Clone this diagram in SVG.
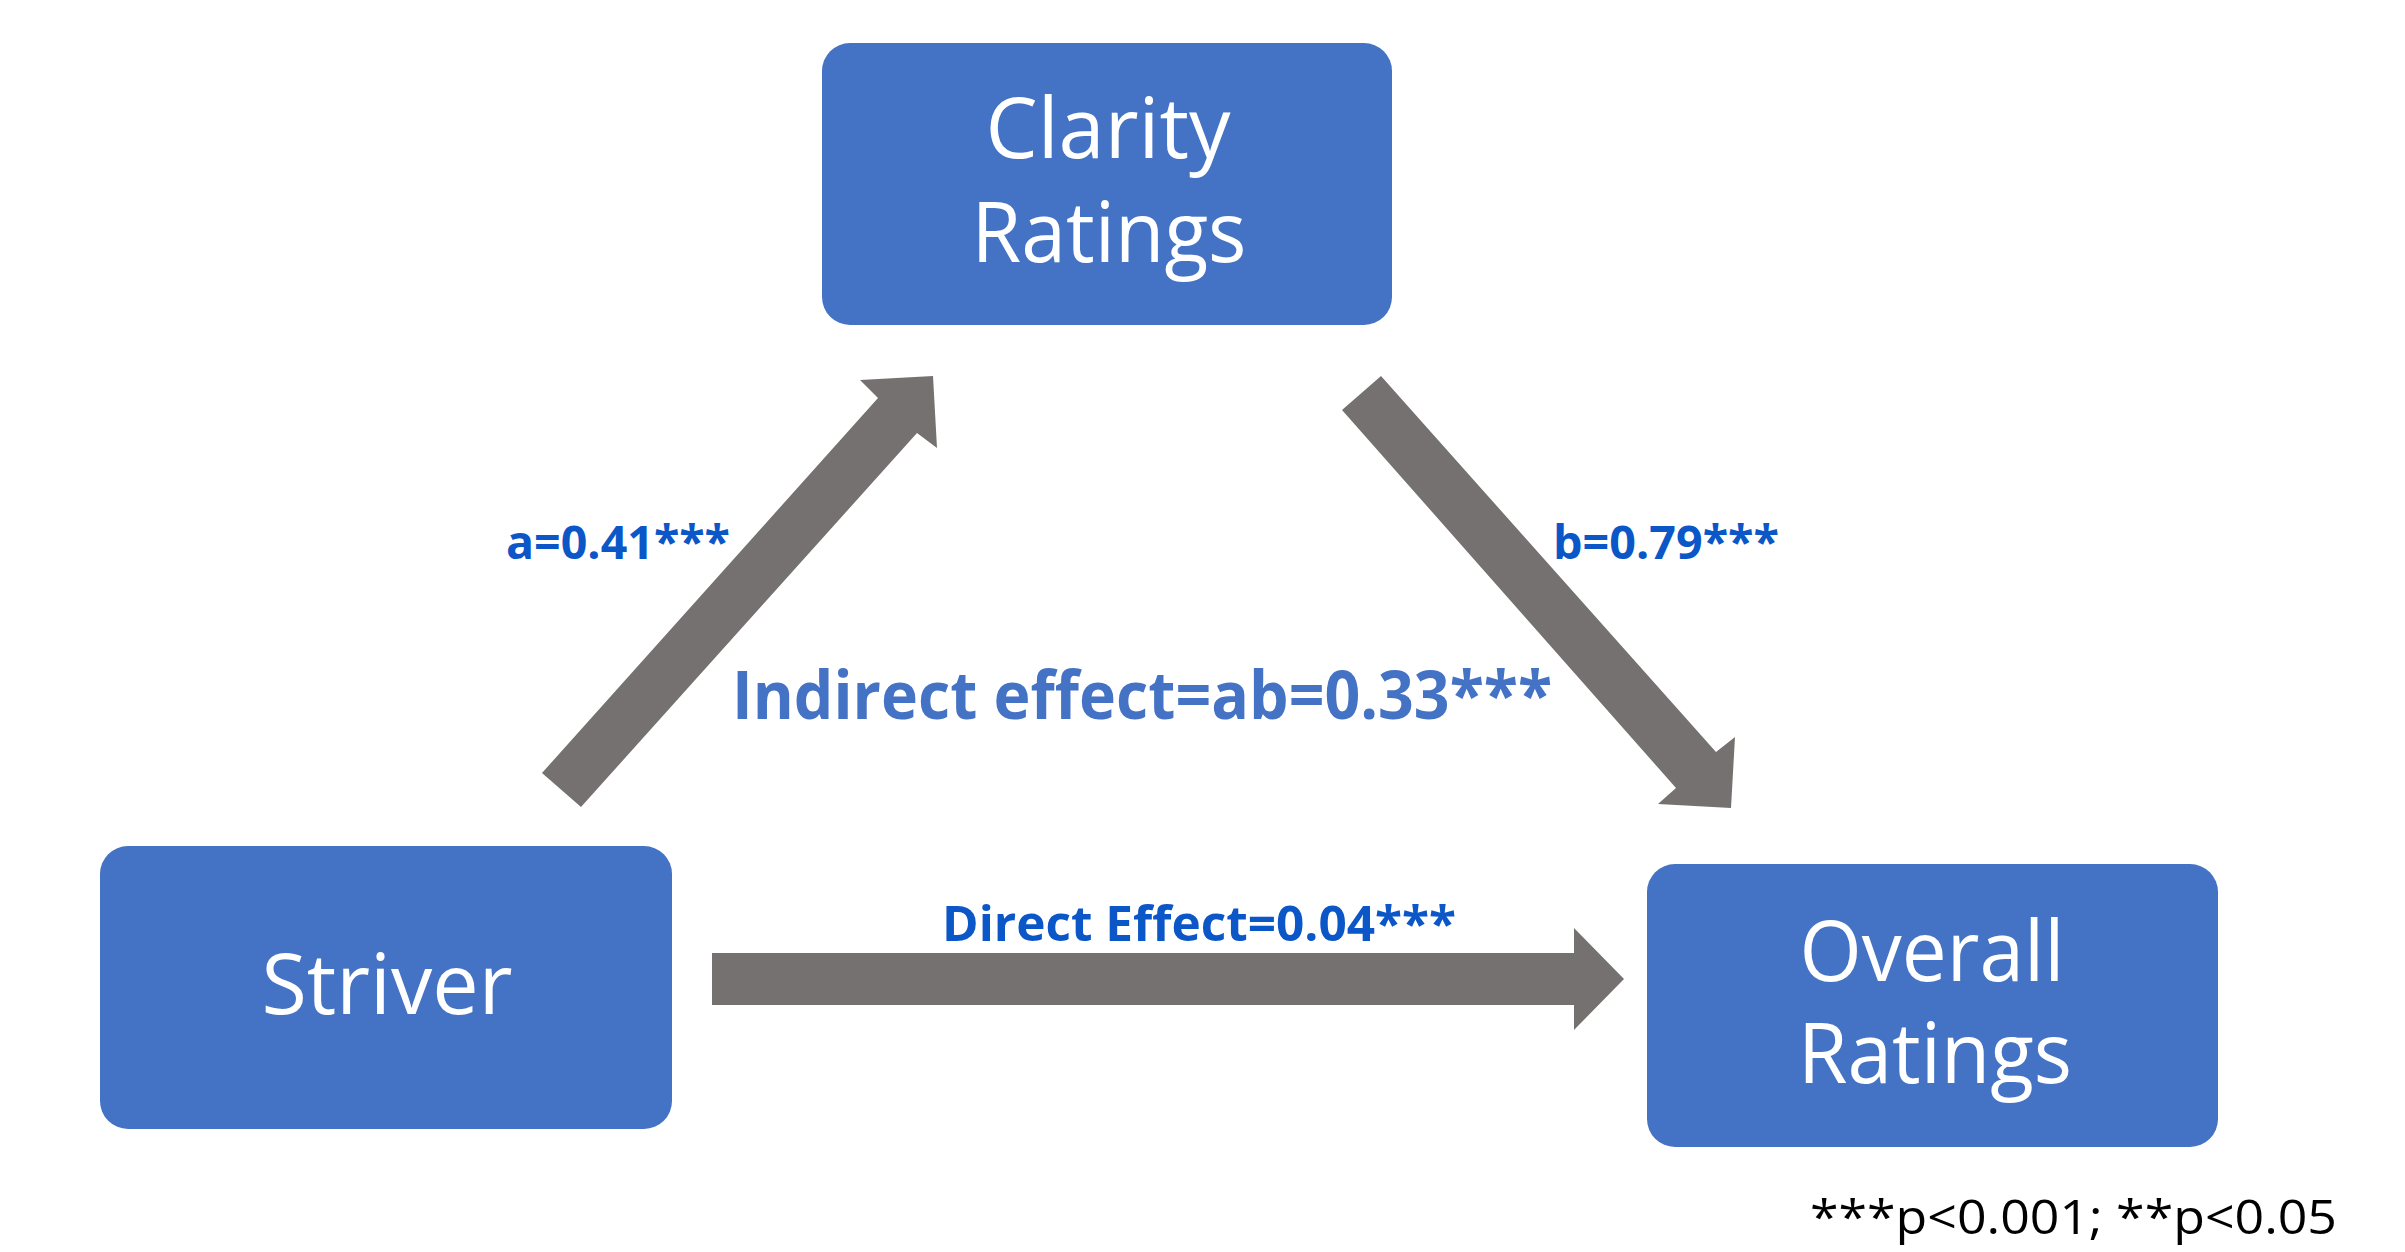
<svg xmlns="http://www.w3.org/2000/svg" width="2405" height="1252" viewBox="0 0 2405 1252">
<style>
.box{fill:#4472C4;}
.nt{font-family:"Open Sans","Liberation Sans",sans-serif;font-size:84px;fill:#FFFFFF;text-anchor:middle;}
.arrow{fill:#767171;}
.lbl{font-family:"Open Sans","Liberation Sans",sans-serif;font-weight:bold;fill:#0B57C8;}
.ind{font-family:"Open Sans","Liberation Sans",sans-serif;font-weight:bold;fill:#4472C4;font-size:66px;}
.note{font-family:"Open Sans","Liberation Sans",sans-serif;fill:#000000;font-size:48px;}
</style>
<rect width="2405" height="1252" fill="#FFFFFF"/>
<g id="connectors">
<polygon class="arrow" points="542,773 581,807 917,433 937,448 933,376 860,380 878,398"/>
<polygon class="arrow" points="1342,410 1381,376 1716,752 1735,737 1731,808 1658,804 1676,788"/>
<polygon class="arrow" points="712,953 1574,953 1574,928 1624,979 1574,1030 1574,1005 712,1005"/>
</g>
<g id="node-clarity">
<rect class="box" x="822" y="43" width="570" height="282" rx="28"/>
<text class="nt" x="1108" y="158" textLength="245" lengthAdjust="spacingAndGlyphs">Clarity</text>
<text class="nt" x="1109" y="262" textLength="275" lengthAdjust="spacingAndGlyphs">Ratings</text>
</g>
<g id="node-striver">
<rect class="box" x="100" y="846" width="572" height="283" rx="28"/>
<text class="nt" x="387" y="1014" textLength="251" lengthAdjust="spacingAndGlyphs">Striver</text>
</g>
<g id="node-overall">
<rect class="box" x="1647" y="864" width="571" height="283" rx="28"/>
<text class="nt" x="1932" y="981" textLength="265" lengthAdjust="spacingAndGlyphs">Overall</text>
<text class="nt" x="1935" y="1083" textLength="274" lengthAdjust="spacingAndGlyphs">Ratings</text>
</g>
<g id="labels">
<text class="lbl" x="506" y="559" font-size="46" textLength="224" lengthAdjust="spacingAndGlyphs">a=0.41***</text>
<text class="lbl" x="1553" y="559" font-size="46" textLength="226" lengthAdjust="spacingAndGlyphs">b=0.79***</text>
<text class="ind" x="732" y="719" textLength="820" lengthAdjust="spacingAndGlyphs">Indirect effect=ab=0.33***</text>
<text class="lbl" x="942" y="941" font-size="49" textLength="514" lengthAdjust="spacingAndGlyphs">Direct Effect=0.04***</text>
<text class="note" x="1810" y="1234" textLength="527" lengthAdjust="spacingAndGlyphs">***p&lt;0.001; **p&lt;0.05</text>
</g>
</svg>
